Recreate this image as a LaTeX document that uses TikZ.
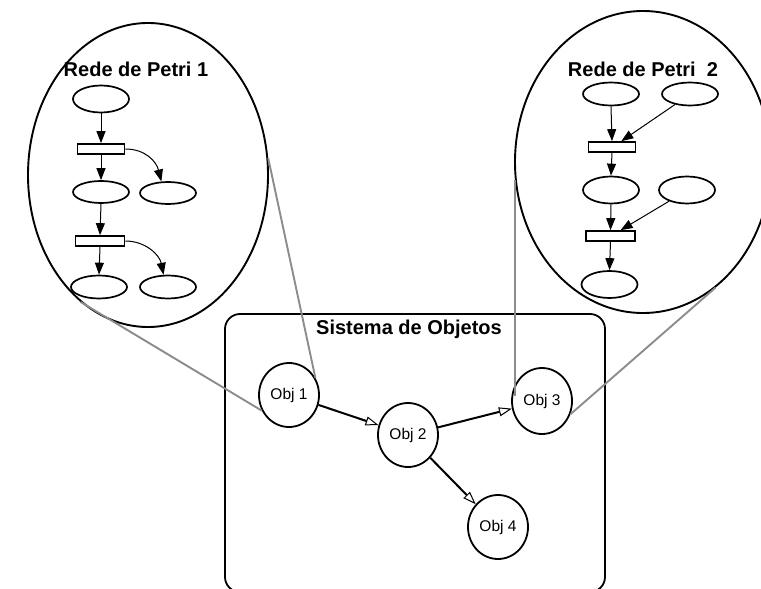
\documentclass[tikz,border=0pt]{standalone}
\usepackage{fontspec}
\setmainfont{Liberation Sans}
\usetikzlibrary{shapes.geometric,arrows.meta}
\definecolor{zoomgray}{RGB}{140,140,140}

\begin{document}
\begin{tikzpicture}[x=1pt,y=-1pt,
  bigoval/.style={ellipse,draw,line width=1.9pt,inner sep=0pt},
  title/.style={font=\fontsize{20}{24}\selectfont\bfseries,inner sep=0pt},
  place/.style={ellipse,draw,line width=1.7pt,minimum width=56pt,minimum height=#1,inner sep=0pt},
  place/.default=23pt,
  trans/.style={rectangle,draw,line width=1.7pt,minimum width=#1,minimum height=10pt,inner sep=0pt},
  trans/.default=47pt,
  arc/.style={line width=1pt,-{Triangle[length=12pt,width=9pt]}},
  obj/.style={ellipse,draw,line width=1.8pt,minimum width=60pt,minimum height=64pt,inner sep=0pt,
    font=\fontsize{15.5}{18}\selectfont},
  link/.style={line width=2pt,-{Triangle[open,length=13pt,width=9pt,line width=1pt]}},
  zoomline/.style={draw=zoomgray,line width=1.9pt}]

\useasboundingbox (0,0) rectangle (761,589);

% ---------- Petri net 1 ----------
\node[bigoval,minimum width=240pt,minimum height=304pt] (net1) at (148,175) {};
\node[title] (t1) at (136,69) {Rede de Petri 1};
\node[place=27pt] (p1) at (101,99) {};
\node[trans] (a1) at (101,149) {};
\node[place=22pt] (p2) at (101,192) {};
\node[place=22pt] (p3) at (168,193) {};
\node[trans=49pt] (a2) at (100,241) {};
\node[place] (p4) at (99,287) {};
\node[place] (p5) at (168,287) {};

\draw[arc] (p1.south) -- (a1.north);
\draw[arc] (a1.south) -- (p2.north);
\draw[arc] (a1.east) .. controls +(20,0) and +(-5,-20) .. (p3.120);
\draw[arc] (p2.south) -- (a2.north);
\draw[arc] (a2.south) -- (p4.north);
\draw[arc] (a2.east) .. controls +(20,0) and +(-4,-20) .. (p5.110);

% ---------- Petri net 2 ----------
\node[bigoval,minimum width=256pt,minimum height=302pt] (net2) at (643,162) {};
\node[title] (t2) at (643,69) {Rede de Petri\ \ 2};
\node[place] (q1) at (611,94) {};
\node[place] (q2) at (690,94) {};
\node[trans] (b1) at (612,147) {};
\node[place=27pt] (q3) at (611,190) {};
\node[place=27pt] (q4) at (687,190) {};
\node[trans=49pt] (b2) at (610.5,236) {};
\node[place=27pt] (q5) at (609.5,284.5) {};

\draw[arc] (q1.south) -- (b1.north);
\draw[arc] (q2.215) -- (b1.32);
\draw[arc] (b1.south) -- (q3.north);
\draw[arc] (q3.south) -- (b2.north);
\draw[arc] (q4.212) -- (b2.30);
\draw[arc] (b2.south) -- (q5.north);

% ---------- object system ----------
\node[draw,line width=1.8pt,rounded corners=15pt,minimum width=380pt,minimum height=278pt,inner sep=0pt]
  (sys) at (415,453) {};
\node[title] (st) at (409,329) {Sistema de Objetos};
\node[obj] (o1) at (289,395) {Obj 1};
\node[obj] (o2) at (408,435) {Obj 2};
\node[obj,minimum height=66pt] (o3) at (542,401) {Obj 3};
\node[obj] (o4) at (498,527) {Obj 4};

\draw[link] (o1) -- (o2);
\draw[link] (o2) -- (o3);
\draw[link] (o2) -- (o4);

% ---------- zoom lines from the nets to their objects ----------
\draw[zoomline] (net1.8.5) -- (o1.33);
\draw[zoomline] (net1.242.4) -- (o1.210);
\draw[zoomline] (net2.188) -- (net2.188 |- o3.170);
\draw[zoomline] (net2.300.4) -- (o3.335);

\end{tikzpicture}
\end{document}
